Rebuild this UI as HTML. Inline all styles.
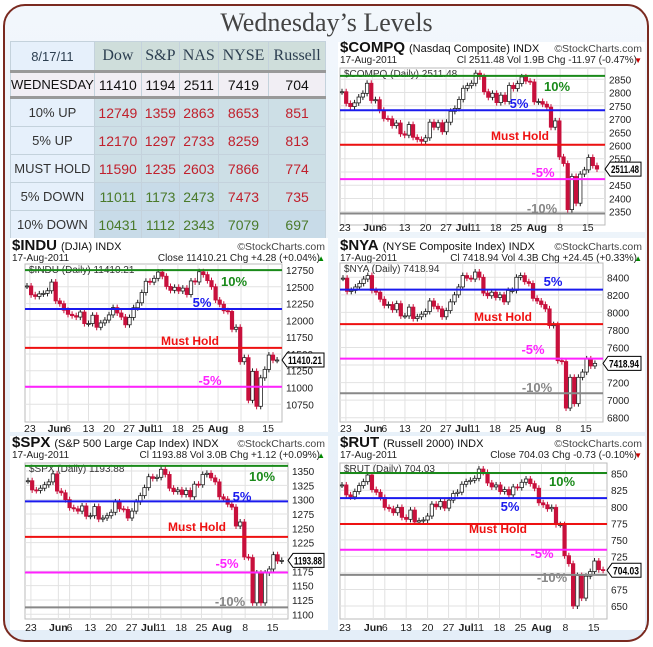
<!DOCTYPE html>
<html><head><meta charset="utf-8">
<style>
body{margin:0;width:653px;height:647px;overflow:hidden;background:#fff;font-family:"Liberation Sans",sans-serif}
#frame{position:absolute;left:3px;top:4px;width:642px;height:634px;border:2px solid #7a2a20;border-radius:22px;background:linear-gradient(#f2f7fc,#e4eef8)}
#title{position:absolute;left:0;width:653px;top:8px;text-align:center;font:26px "Liberation Serif",serif;color:#444}
table{position:absolute;left:10px;top:41px;border-collapse:collapse;width:316px}
td{border:1px solid #c4d2dc;text-align:center;font-size:14px;padding:0;height:27px}
td.lab{background:#e6f0fb;color:#333;font-size:13px;width:76px}
tr.hd td{background:#cfdedb;font:16px "Liberation Serif",serif;color:#2c3e50;height:28px}
tr.hd td.lab{background:#e6f0fb;font:13px "Liberation Sans",sans-serif}
tr.wd td{background:#f1eef4;color:#111;border-top:3px solid #999;border-bottom:3px solid #999;height:23px}
td.r{color:#c0202c;background:#cddfe6}td.g{color:#4a7a2a;background:#c8dbe8}
#svg{position:absolute;left:0;top:0}
</style></head><body>
<div id="frame"></div>
<div id="title">Wednesday’s Levels</div>
<table>
<tr class="hd"><td class="lab">8/17/11</td><td>Dow</td><td>S&amp;P</td><td>NAS</td><td>NYSE</td><td>Russell</td></tr>
<tr class="wd"><td class="lab" style="background:#f1eef4">WEDNESDAY</td><td>11410</td><td>1194</td><td>2511</td><td>7419</td><td>704</td></tr>
<tr><td class="lab">10% UP</td><td class="r">12749</td><td class="r">1359</td><td class="r">2863</td><td class="r">8653</td><td class="r">851</td></tr>
<tr><td class="lab">5% UP</td><td class="r">12170</td><td class="r">1297</td><td class="r">2733</td><td class="r">8259</td><td class="r">813</td></tr>
<tr><td class="lab">MUST HOLD</td><td class="r">11590</td><td class="r">1235</td><td class="r">2603</td><td class="r">7866</td><td class="r">774</td></tr>
<tr><td class="lab">5% DOWN</td><td class="g">11011</td><td class="g">1173</td><td class="g">2473</td><td class="r">7473</td><td class="r">735</td></tr>
<tr><td class="lab">10% DOWN</td><td class="g">10431</td><td class="g">1112</td><td class="g">2343</td><td class="g">7079</td><td class="g">697</td></tr>
</table>
<svg id="svg" width="653" height="647" xmlns="http://www.w3.org/2000/svg"></svg>
<script>
const xTickLabels=['23','Jun','6','13','20','27','Jul','11','18','25','Aug','8','15'];
const xTickIdx=[0.7,7.3,10,15,20,24.9,29,31.9,36.8,41.7,46.6,52.2,58.8];
const levelNames=['10%','5%','Must Hold','-5%','-10%'];
const compqClose=[2803,2759,2747,2761,2783,2797,2835,2770,2773,2733,2702,2701,2675,2685,2644,2639,2679,2631,2623,2616,2629,2688,2669,2686,2652,2688,2729,2740,2774,2816,2826,2835,2873,2860,2803,2782,2797,2762,2790,2766,2827,2815,2834,2859,2843,2840,2765,2766,2756,2745,2669,2693,2557,2532,2358,2483,2382,2492,2508,2555,2524,2511];
const induClose=[12512,12381,12356,12394,12402,12441,12570,12290,12248,12151,12090,12070,12049,12124,11952,11953,12076,11897,11962,12004,12081,12190,12110,12050,11934,12043,12188,12262,12414,12582,12569,12626,12719,12657,12505,12447,12492,12437,12480,12385,12587,12572,12724,12681,12592,12501,12303,12240,12143,12133,11867,11897,11384,11445,10810,11240,10720,11144,11270,11483,11406,11410];
const nyaClose=[8390,8240,8250,8290,8330,8380,8420,8250,8230,8150,8080,8090,8030,8100,7960,7960,8060,7930,7950,7980,8010,8130,8070,8040,7950,8020,8120,8200,8290,8420,8390,8380,8460,8400,8220,8190,8230,8170,8200,8120,8250,8250,8400,8420,8350,8330,8160,8130,8090,8040,7850,7860,7450,7440,6910,7260,6960,7260,7320,7470,7390,7419];
const spxClose=[1333,1317,1316,1320,1326,1331,1345,1315,1312,1300,1286,1284,1280,1289,1271,1272,1288,1266,1268,1272,1278,1296,1284,1283,1268,1280,1296,1307,1321,1340,1337,1339,1353,1344,1320,1314,1317,1309,1316,1305,1327,1326,1344,1346,1338,1331,1305,1301,1292,1287,1254,1261,1200,1199,1120,1172,1120,1172,1179,1204,1193,1194];
const rutClose=[833,818,815,823,832,838,848,826,822,814,799,797,791,799,784,781,795,777,779,780,786,804,800,808,798,810,820,822,834,838,840,843,857,852,836,830,833,823,826,818,830,829,837,842,835,828,806,803,797,799,773,773,726,714,650,696,662,695,702,718,705,704];
const compqLevels=[2863,2733,2603,2473,2343];
const induLevels=[12749,12170,11590,11011,10431];
const nyaLevels=[8653,8259,7866,7473,7079];
const spxLevels=[1359,1297,1235,1173,1112];
const rutLevels=[851,813,774,735,697];
const compqTicks=[2350,2400,2450,2500,2550,2600,2650,2700,2750,2800,2850];
const induTicks=[10750,11000,11250,11500,11750,12000,12250,12500,12750];
const nyaTicks=[6800,7000,7200,7400,7600,7800,8000,8200,8400];
const spxTicks=[1100,1125,1150,1175,1200,1225,1250,1275,1300,1325,1350];
const rutTicks=[650,675,700,725,750,775,800,825,850];
const lvlColors=['#1a8a1a','#1a1aee','#ee1111','#ff22ff','#888888'];
const charts=[
{sym:'$COMPQ',name:'(Nasdaq Composite)',hdr:'Cl 2511.48  Vol 1.9B  Chg -11.97 (-0.47%)',down:true,last:'2511.48',x0:338,y0:42,w:307,h:190,L:340,R:605,T:68,B:225,v1:2850,p1:79.3,v2:2350,p2:211.7,ticks:compqTicks,levels:compqLevels,closes:compqClose,xf:342,xs:4.18,ty:52,lp:[[557,91],[519,108],[520,140],[543,177],[542,213]],labY:231},
{sym:'$INDU',name:'(DJIA)',hdr:'Close 11410.21  Chg +4.28 (+0.04%)',down:false,last:'11410.21',x0:10,y0:238,w:318,h:194,L:25,R:282,T:264,B:422,v1:12750,p1:270,v2:10750,p2:404.3,ticks:induTicks,levels:induLevels,closes:induClose,xf:27,xs:4.1,ty:250,lp:[[234,286],[202,307],[190,345],[210,385],[0,-99]],labY:432},
{sym:'$NYA',name:'(NYSE Composite Index)',hdr:'Cl 7418.94  Vol 4.3B  Chg +24.45 (+0.33%)',down:false,last:'7418.94',x0:338,y0:238,w:307,h:194,L:340,R:603,T:263,B:422,v1:8400,p1:277.3,v2:6800,p2:417.7,ticks:nyaTicks,levels:nyaLevels,closes:nyaClose,xf:343,xs:4.13,ty:250,lp:[[0,-99],[553,286],[503,321],[533,354],[537,392]],labY:432},
{sym:'$SPX',name:'(S&P 500 Large Cap Index)',hdr:'Cl 1193.88  Vol 3.0B  Chg +1.12 (+0.09%)',down:false,last:'1193.88',x0:10,y0:436,w:318,h:194,L:25,R:288,T:463,B:619,v1:1350,p1:471,v2:1100,p2:614.3,ticks:spxTicks,levels:spxLevels,closes:spxClose,xf:28,xs:4.16,ty:447,lp:[[262,481],[242,501],[197,531],[227,568],[230,606]],labY:631},
{sym:'$RUT',name:'(Russell 2000)',hdr:'Close 704.03  Chg -0.73 (-0.10%)',down:true,last:'704.03',x0:338,y0:436,w:307,h:194,L:340,R:607,T:463,B:619,v1:850,p1:473.7,v2:650,p2:606,ticks:rutTicks,levels:rutLevels,closes:rutClose,xf:342,xs:4.28,ty:447,lp:[[562,486],[510,511],[498,533],[542,558],[552,582]],labY:631}
];
const NS='http://www.w3.org/2000/svg';
const svg=document.getElementById('svg');
function mk(tag,attrs,parent,text){const e=document.createElementNS(NS,tag);for(const k in attrs)e.setAttribute(k,attrs[k]);if(text!==undefined)e.textContent=text;(parent||svg).appendChild(e);return e;}
charts.forEach(c=>{
  const g=mk('g',{});
  
  
  const y=v=>c.p1+(v-c.v1)*(c.p2-c.p1)/(c.v2-c.v1);
  const x=i=>c.xf+i*c.xs;
  const bg=mk('rect',{x:c.x0,y:c.y0,width:c.w,height:c.h,fill:'#fff'},g);
  
  
  const t=mk('text',{x:c.x0+2,y:c.ty,'font-size':15,'font-weight':'bold',fill:'#111'},g);
  
  
  mk('tspan',{},t,c.sym);
  mk('tspan',{'font-size':11,'font-weight':'normal',dx:4},t,c.name+' INDX');
  mk('text',{x:c.x0+c.w-3,y:c.ty,'font-size':10.5,'text-anchor':'end',fill:'#444'},g,'©StockCharts.com');
  mk('text',{x:c.x0+2,y:c.ty+11,'font-size':10,fill:'#222'},g,'17-Aug-2011');
  const h2=mk('text',{x:c.x0+c.w-8,y:c.ty+11,'font-size':10,'text-anchor':'end',fill:'#222'},g,c.hdr);
  
  
  mk('text',{x:c.x0+c.w-3,y:c.ty+11,'font-size':8,'text-anchor':'end',fill:c.down?'#c00':'#080'},g,c.down?'▼':'▲');
  mk('rect',{x:c.L,y:c.T,width:c.R-c.L,height:c.B-c.T,fill:'#fff',stroke:'#bbb'},g);
  c.ticks.forEach(v=>{
    mk('line',{x1:c.L,x2:c.R,y1:y(v),y2:y(v),stroke:'#e2e2e2'},g);
    const tl=mk('text',{x:c.R+4,y:y(v)+4,'font-size':10,fill:'#222'},g,String(v));
    
    
  });
  xTickIdx.forEach((d,k)=>{
    mk('line',{x1:x(d),x2:x(d),y1:c.T,y2:c.B,stroke:'#e2e2e2'},g);
    const lb=xTickLabels[k];
    const tl=mk('text',{x:x(d),y:c.labY,'font-size':10.5,'text-anchor':'middle',fill:'#222','font-weight':/[A-Z]/.test(lb)?'bold':'normal'},g,lb);
    
    
  });
  mk('text',{x:c.L+4,y:c.T+9,'font-size':10,fill:'#333'},g,c.sym+' (Daily) '+c.last);
  c.closes.forEach((cl,i)=>{
    const op=i>0?c.closes[i-1]:cl;
    const up=cl>=op;
    const top=y(Math.max(op,cl)),bot=y(Math.min(op,cl));
    const wl=mk('line',{x1:x(i),x2:x(i),y1:top-3,y2:bot+3,stroke:up?'#222':'#c8103c'},g);
    
    
    const r=mk('rect',{x:x(i)-1.7,y:top,width:3.4,height:Math.max(1,bot-top),fill:up?'#fff':'#c8103c',stroke:up?'#222':'#c8103c','stroke-width':0.8},g);
    
    
  });
  c.levels.forEach((v,k)=>{
    const yy=y(v);
    if(yy<c.T-1||yy>c.B+1)return;
    const ln=mk('line',{x1:c.L,x2:c.R,y1:yy,y2:yy,stroke:lvlColors[k],'stroke-width':2},g);
    
    
    const p=c.lp[k];
    const lt=mk('text',{x:p[0],y:p[1],'font-size':k==2?12:13,'font-weight':'bold','text-anchor':'middle',fill:lvlColors[k]},g,levelNames[k]);
    
    
  });
  const ly=y(c.closes[c.closes.length-1]);
  const right=c.x0+c.w-4;
  const tag=mk('path',{d:`M${c.R} ${ly} L${c.R+5} ${ly-7} H${right} V${ly+7} H${c.R+5} Z`,fill:'#fff',stroke:'#000'},g);
  
  
  mk('text',{x:c.R+6,y:ly+4,'font-size':11,'font-weight':'bold',fill:'#000',textLength:right-c.R-8,lengthAdjust:'spacingAndGlyphs'},g,c.last);
});
</script>
</body></html>
